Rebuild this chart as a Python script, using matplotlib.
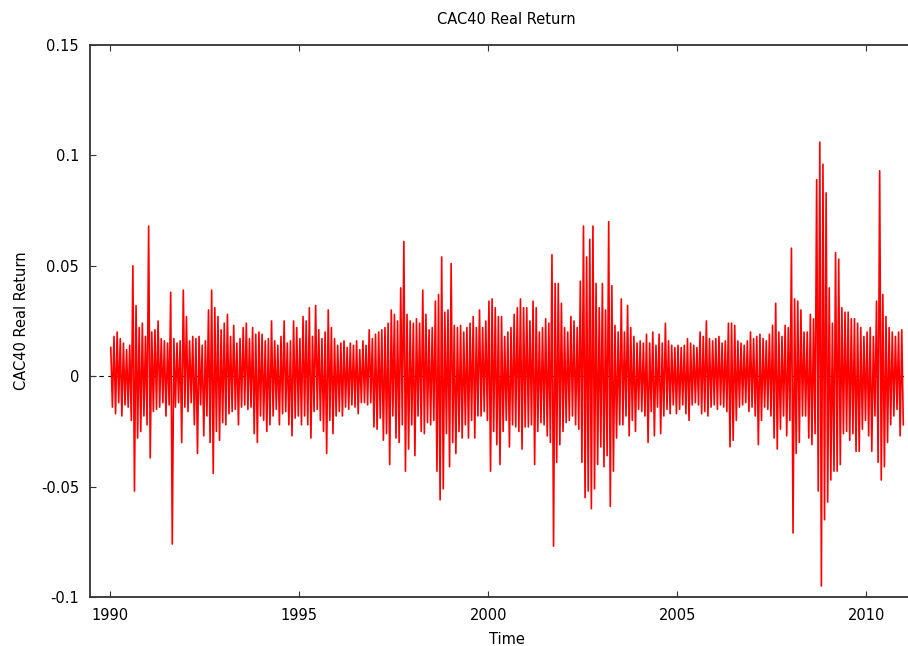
import matplotlib
matplotlib.use("Agg")
import matplotlib.pyplot as plt

# monthly extremes of the daily real return, in thousandths
years = list(range(1990, 2011))
monthly_high = [
    13, 18, 20, 17, 15, 12, 14, 50, 32, 22, 24, 18,   # 1990
    68, 20, 21, 25, 17, 16, 15, 38, 17, 15, 16, 39,   # 1991
    27, 16, 18, 17, 18, 14, 16, 30, 39, 31, 27, 21,   # 1992
    24, 28, 18, 23, 15, 17, 22, 24, 17, 22, 19, 20,   # 1993
    19, 16, 17, 25, 16, 14, 18, 25, 15, 16, 25, 22,   # 1994
    17, 27, 25, 31, 18, 32, 21, 17, 20, 30, 22, 17,   # 1995
    14, 15, 16, 13, 15, 14, 16, 12, 16, 14, 21, 17,   # 1996
    19, 20, 21, 22, 24, 30, 28, 25, 40, 61, 28, 25,   # 1997
    24, 26, 24, 39, 28, 21, 22, 34, 37, 54, 29, 30,   # 1998
    51, 23, 22, 23, 20, 22, 24, 27, 22, 30, 22, 25,   # 1999
    34, 35, 31, 27, 27, 18, 20, 22, 28, 31, 35, 31,   # 2000
    31, 25, 34, 31, 20, 22, 26, 24, 55, 42, 42, 33,   # 2001
    22, 20, 27, 25, 22, 43, 68, 54, 62, 68, 42, 31,   # 2002
    42, 30, 70, 41, 23, 20, 35, 20, 32, 22, 18, 15,   # 2003
    16, 15, 19, 15, 20, 14, 19, 15, 24, 16, 14, 13,   # 2004
    14, 13, 14, 17, 15, 14, 13, 20, 18, 25, 17, 16,   # 2005
    17, 18, 15, 16, 24, 24, 23, 16, 15, 14, 16, 20,   # 2006
    17, 18, 19, 17, 16, 19, 23, 33, 20, 18, 23, 22,   # 2007
    58, 35, 34, 30, 20, 20, 28, 26, 89, 106, 96, 83,  # 2008
    40, 24, 56, 53, 31, 29, 29, 26, 26, 24, 22, 18,   # 2009
    20, 22, 18, 34, 93, 37, 27, 22, 20, 18, 20, 21,   # 2010
]
monthly_low = [
    -14, -17, -12, -18, -13, -14, -20, -52, -28, -25, -18, -22,   # 1990
    -37, -16, -15, -14, -12, -18, -13, -76, -14, -12, -30, -14,   # 1991
    -16, -12, -22, -35, -13, -27, -18, -30, -44, -25, -29, -21,   # 1992
    -22, -17, -16, -15, -22, -14, -13, -15, -14, -26, -30, -18,   # 1993
    -20, -25, -22, -18, -15, -22, -17, -16, -22, -27, -19, -18,   # 1994
    -22, -18, -22, -28, -16, -15, -20, -25, -35, -20, -26, -18,   # 1995
    -16, -18, -14, -15, -13, -14, -17, -12, -12, -13, -12, -23,   # 1996
    -24, -19, -29, -26, -40, -18, -28, -30, -22, -43, -33, -22,   # 1997
    -36, -18, -25, -26, -21, -22, -20, -43, -56, -51, -26, -41,   # 1998
    -30, -35, -25, -28, -22, -28, -20, -28, -18, -18, -16, -20,   # 1999
    -43, -25, -31, -40, -25, -20, -32, -22, -23, -25, -33, -23,   # 2000
    -23, -22, -40, -25, -21, -22, -27, -30, -77, -39, -31, -25,   # 2001
    -21, -20, -18, -22, -24, -39, -55, -52, -60, -51, -40, -32,   # 2002
    -41, -36, -59, -43, -28, -22, -22, -18, -27, -20, -25, -15,   # 2003
    -16, -18, -30, -16, -27, -14, -26, -18, -15, -17, -13, -17,   # 2004
    -15, -13, -17, -20, -13, -12, -13, -17, -16, -18, -14, -13,   # 2005
    -15, -13, -14, -16, -32, -29, -20, -14, -13, -12, -16, -14,   # 2006
    -18, -31, -20, -14, -15, -18, -28, -33, -24, -18, -27, -20,   # 2007
    -71, -35, -30, -18, -18, -28, -31, -26, -52, -95, -65, -57,   # 2008
    -47, -43, -43, -40, -26, -25, -29, -26, -34, -34, -24, -20,   # 2009
    -27, -34, -18, -39, -47, -41, -30, -22, -18, -15, -27, -22,   # 2010
]
x_ticks = [1990, 1995, 2000, 2005, 2010]
y_ticks = [-0.1, -0.05, 0, 0.05, 0.1, 0.15]
y_tick_labels = ["-0.1", "-0.05", "0", "0.05", "0.1", "0.15"]

# high then low inside each month -> dense zigzag like the daily series
t, r = [], []
for i, (h, l) in enumerate(zip(monthly_high, monthly_low)):
    yr = years[i // 12]
    m = i % 12
    t += [yr + (m + 0.25) / 12, yr + (m + 0.75) / 12]
    r += [h / 1000, l / 1000]

plt.rcParams["font.family"] = "DejaVu Sans"
plt.rcParams["font.size"] = 10.5

fig = plt.figure(figsize=(9.08, 6.46), dpi=100)
ax = fig.add_axes([90 / 908, 49 / 646, 833 / 908, 552 / 646])

ax.axhline(0, color="black", lw=0.8, ls=(0, (4, 4)), zorder=1)
ax.plot(t, r, color="#ff0000", lw=1.2, zorder=3)

ax.set_xlim(1989.47, 2011.5)
ax.set_ylim(-0.1, 0.15)
ax.set_xticks(x_ticks)
ax.set_yticks(y_ticks)
ax.set_yticklabels(y_tick_labels)
ax.tick_params(direction="in", top=True, right=True, length=4, width=0.8,
               color="#333333", labelsize=10.5, pad=8)
for s in ax.spines.values():
    s.set_color("#333333")
    s.set_linewidth(1.3)

ax.text(0.5, 1 + 26 / 552, "CAC40 Real Return", transform=ax.transAxes,
        ha="center", va="center", fontsize=10.5)
ax.set_xlabel("Time", va="center")
ax.xaxis.set_label_coords(0.5, -42 / 552)
ax.set_ylabel("CAC40 Real Return", va="center")
ax.yaxis.set_label_coords(-68 / 833, 0.5)

fig.savefig("out.png", dpi=100)
